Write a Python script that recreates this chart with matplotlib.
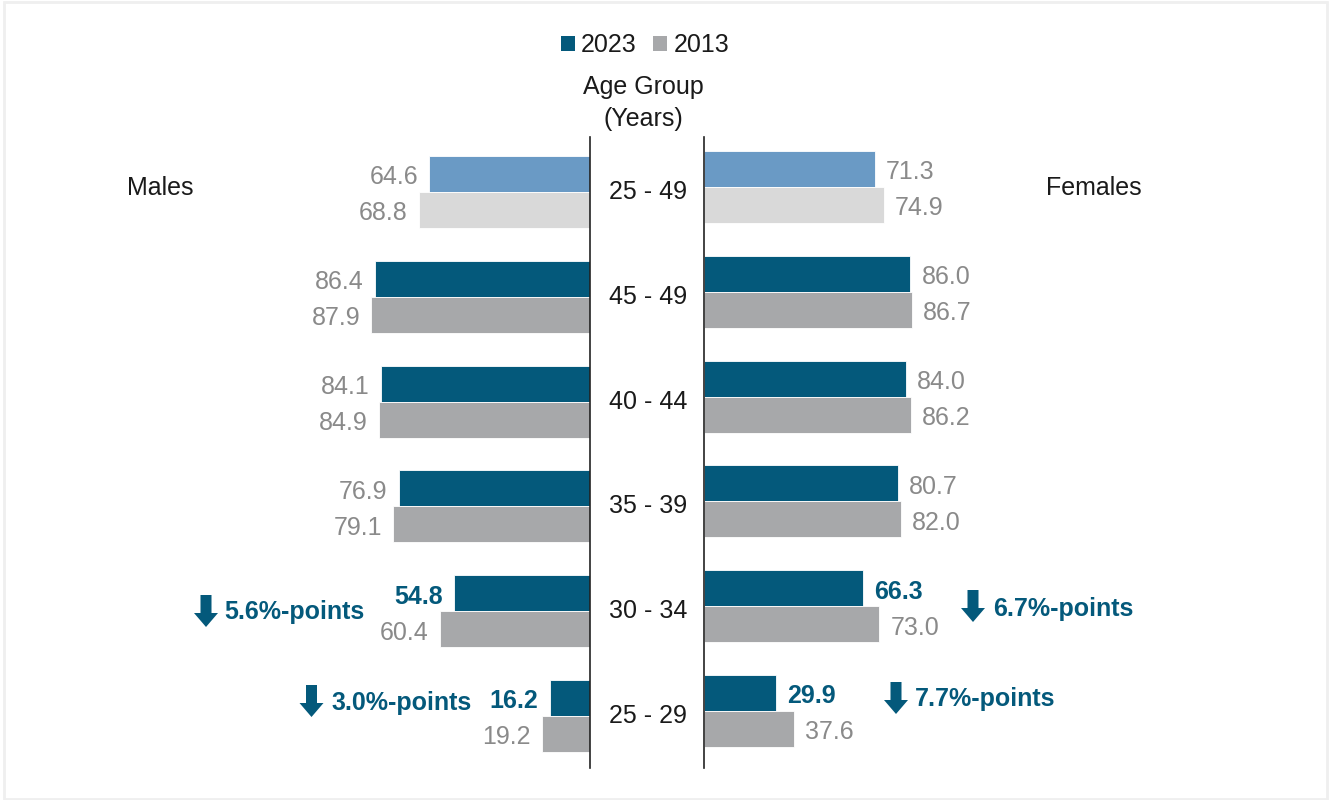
import matplotlib
matplotlib.use("Agg")
import matplotlib.pyplot as plt
from matplotlib.patches import Patch, Polygon, Rectangle
from matplotlib.lines import Line2D
import matplotlib.transforms as mtransforms

plt.rcParams['font.family'] = ['Liberation Sans', 'DejaVu Sans']

# ---------------- data ----------------
age_groups = ["25 - 49", "45 - 49", "40 - 44", "35 - 39", "30 - 34", "25 - 29"]
males_2023 = [64.6, 86.4, 84.1, 76.9, 54.8, 16.2]
males_2013 = [68.8, 87.9, 84.9, 79.1, 60.4, 19.2]
females_2023 = [71.3, 86.0, 84.0, 80.7, 66.3, 29.9]
females_2013 = [74.9, 86.7, 86.2, 82.0, 73.0, 37.6]
highlight_rows = [4, 5]          # rows with change annotations
legend_labels = ["2023", "2013"]

# ---------------- style ----------------
C23 = "#04597B"
C13 = "#A7A8AA"
C23_TOT = "#6A9AC5"
C13_TOT = "#D9D9D9"
LBL = "#8A8A8A"
TXT = "#1A1A1A"
FS = 18

W, H = 1330, 800
fig = plt.figure(figsize=(W / 100, H / 100), dpi=100)


def fx(px):
    return px / W


def fy(py):
    return 1 - py / H


row_px = 104.8
bar_px = 36
n = len(age_groups)


def make_axes(left_px, right_px, top_px, bottom_px, scale, first_center_px, invert):
    ax = fig.add_axes([fx(left_px), fy(bottom_px), fx(right_px - left_px), (bottom_px - top_px) / H])
    xmax = (right_px - left_px) / scale
    if invert:
        ax.set_xlim(xmax, 0)
    else:
        ax.set_xlim(0, xmax)
    ax.set_ylim((bottom_px - first_center_px) / row_px, (top_px - first_center_px) / row_px)
    ax.axis("off")
    return ax


ax_m = make_axes(100, 590, 137, 768, 2.49, 192, True)
ax_f = make_axes(704, 1230, 132, 763, 2.40, 187, False)

h = bar_px / row_px
ys = list(range(n))


def draw_side(ax, v23, v13, side):
    c23 = [C23_TOT] + [C23] * (n - 1)
    c13 = [C13_TOT] + [C13] * (n - 1)
    ax.barh([y - h / 2 for y in ys], v23, height=h, color=c23, edgecolor="white", linewidth=0.6)
    ax.barh([y + h / 2 for y in ys], v13, height=h, color=c13, edgecolor="white", linewidth=0.6)
    off = 8 if side == "right" else -8
    ha = "left" if side == "right" else "right"
    for i in ys:
        bold = i in highlight_rows
        ax.annotate(f"{v23[i]:.1f}", (v23[i], i - h / 2), xytext=(off, -2.5), textcoords="offset points",
                    ha=ha, va="center", fontsize=FS, color=C23 if bold else LBL,
                    fontweight="bold" if bold else "normal")
        ax.annotate(f"{v13[i]:.1f}", (v13[i], i + h / 2), xytext=(off, -2.5), textcoords="offset points",
                    ha=ha, va="center", fontsize=FS, color=LBL)


draw_side(ax_m, males_2023, males_2013, "left")
draw_side(ax_f, females_2023, females_2013, "right")

# center axis lines
for xpx in (590, 704):
    fig.add_artist(Line2D([fx(xpx), fx(xpx)], [fy(137), fy(768)], color="#222222", linewidth=1.2))

# age group labels
tr = mtransforms.blended_transform_factory(fig.transFigure, ax_m.transData)
for i, g in enumerate(age_groups):
    fig.text(fx(648), i, g, transform=tr, ha="center", va="center", fontsize=FS, color=TXT)

fig.text(fx(643), fy(103), "Age Group\n(Years)", ha="center", va="center", fontsize=FS,
         color=TXT, linespacing=1.4)
fig.text(fx(127), fy(188), "Males", ha="left", va="center", fontsize=FS, color=TXT)
fig.text(fx(1046), fy(188), "Females", ha="left", va="center", fontsize=FS, color=TXT)

# legend
handles = [Patch(facecolor=C23, edgecolor="none"), Patch(facecolor=C13, edgecolor="none")]
fig.legend(handles, legend_labels, loc="center", bbox_to_anchor=(fx(645), fy(45)), ncol=2,
           frameon=False, fontsize=FS, handlelength=0.56, handleheight=0.56,
           handletextpad=0.25, columnspacing=0.65, labelcolor=TXT, borderpad=0)


# change annotations
def down_arrow(cx, top, bottom):
    sw, hw, hh = 5.5, 12, 14
    pts = [(cx - sw, top), (cx + sw, top), (cx + sw, bottom - hh), (cx + hw, bottom - hh),
           (cx, bottom), (cx - hw, bottom - hh), (cx - sw, bottom - hh)]
    fig.add_artist(Polygon([(fx(x), fy(y)) for x, y in pts], closed=True,
                           transform=fig.transFigure, facecolor=C23, edgecolor="none"))


ann = [
    # (diff, arrow cx, top, bottom, text x, text y)
    (males_2013[4] - males_2023[4], 206, 595, 627, 224, 612),
    (males_2013[5] - males_2023[5], 311.5, 685, 717, 331, 703),
    (females_2013[4] - females_2023[4], 973, 590, 622, 993, 609),
    (females_2013[5] - females_2023[5], 896, 682, 714, 915, 699),
]
for d, cx, t, b, tx, ty in ann:
    down_arrow(cx, t, b)
    fig.text(fx(tx), fy(ty), f"{d:.1f}%-points", ha="left", va="center", fontsize=FS,
             fontweight="bold", color=C23)

# outer frame
fig.add_artist(Rectangle((fx(4), fy(799)), fx(1323), (797) / H, transform=fig.transFigure,
                         fill=False, edgecolor="#EFEFEF", linewidth=2))

fig.savefig("out.png", dpi=100, facecolor="white")
